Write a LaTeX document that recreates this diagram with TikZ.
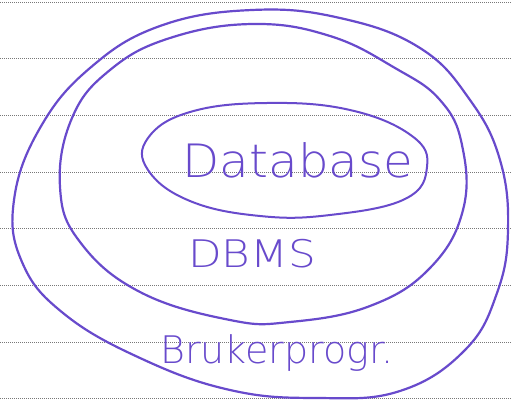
\documentclass[tikz,border=0pt]{standalone}
\usepackage{fontspec}
\newfontfamily\hand{DejaVu Sans ExtraLight}
\definecolor{ink}{RGB}{104,74,204}
\definecolor{rule}{RGB}{120,120,120}
\begin{document}
\begin{tikzpicture}[x=1pt,y=-1pt,
  ruling/.style={rule, line width=0.9pt, dash pattern=on 1pt off 1pt},
  pen/.style={ink, line width=2.2pt, line cap=round, line join=round},
  label/.style={ink, font=\hand, inner sep=0pt}]
  % paper
  \fill[white] (0,0) rectangle (511,401);
  \useasboundingbox (0,0) rectangle (511,401);
  % ruled lines
  \foreach \y in {2,58.5,115,172,228.5,285,342,398}
    \draw[ruling] (0,\y) -- (511,\y);
  % outer ring
  \draw[pen] plot[smooth cycle, tension=0.7] coordinates {
    (252,10) (160,26) (90,68) (40,128) (14,200) (22,262)
    (63,313) (140,358) (230,390) (317,398) (400,391)
    (465,350) (497,293) (508,230) (500,160) (470,100) (420,48) (340,18)};
  % middle ring
  \draw[pen] plot[smooth cycle, tension=0.7] coordinates {
    (253,24) (170,38) (110,70) (72,118) (60,187) (80,242)
    (140,292) (230,320) (290,322) (370,306) (430,268)
    (463,210) (462,145) (440,100) (395,68) (330,36)};
  % inner ring
  \draw[pen, line width=2pt] plot[smooth cycle, tension=0.7] coordinates {
    (267,103) (190,112) (148,138) (148,170) (190,201) (260,216)
    (330,215) (405,199) (427,167) (412,136) (350,110)};
  % labels
  \node[label, font=\hand\fontsize{46}{46}\selectfont, xscale=1.05] (db) at (298,160) {Database};
  \node[label, font=\hand\fontsize{38}{38}\selectfont, xscale=1.15] (dbms) at (252,254) {DBMS};
  \node[label, font=\hand\fontsize{38}{38}\selectfont] (bp) at (277,353) {Brukerprogr.};
\end{tikzpicture}
\end{document}
